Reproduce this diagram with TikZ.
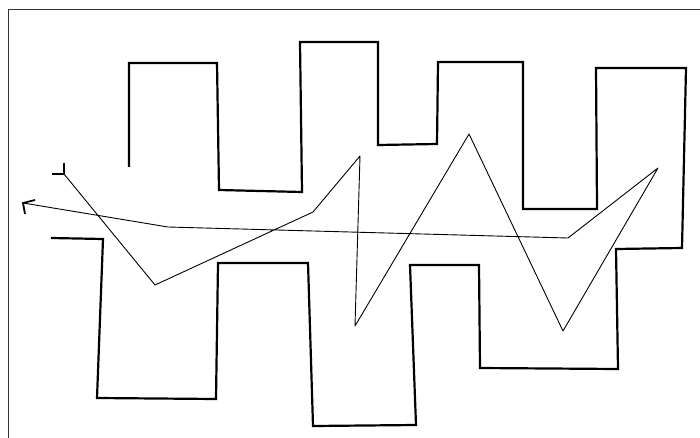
\documentclass[tikz,border=0pt]{standalone}
\begin{document}
\begin{tikzpicture}[x=1pt,y=-1pt,
  frame/.style={line width=0.8pt,black!80},
  wall/.style={line width=2.2pt,line join=miter,black},
  route/.style={line width=0.9pt,line join=round,black},
  tick/.style={line width=1.8pt,black}]
\useasboundingbox (0,0) rectangle (700,438);
\fill[white] (0,0) rectangle (700,438);
% frame
\draw[frame] (8,438) -- (8,9) -- (700,9);
% wall
\draw[wall] (129,167) -- (129,63) -- (217,63) -- (219,190) -- (302,192) -- (300,42)
  -- (378,42) -- (378,145) -- (437,144) -- (438,62) -- (523,62) -- (523,209)
  -- (597,209) -- (596,68) -- (686,68) -- (682,248) -- (616,249) -- (618,369)
  -- (480,368) -- (479,265) -- (410,265) -- (416,425) -- (313,426) -- (308,263)
  -- (218,263) -- (216,399) -- (97,398) -- (103,239) -- (51,238);
% route
\coordinate (s) at (64,174);
\coordinate (p1) at (155,285);
\coordinate (p2) at (313,212);
\coordinate (p3) at (360,156);
\coordinate (p4) at (355,326);
\coordinate (p5) at (469,134);
\coordinate (p6) at (563,331);
\coordinate (p7) at (658,168);
\coordinate (p8) at (568,238);
\coordinate (p9) at (168,227);
\coordinate (e) at (23,203);
\draw[route] (s) -- (p1) -- (p2) -- (p3) -- (p4) -- (p5) -- (p6) -- (p7) -- (p8) -- (p9) -- (e);
% start marker
\draw[tick] ([yshift=11pt]s) -- (s) -- ([xshift=-12pt]s);
% arrow head
\draw[tick] ([xshift=12pt,yshift=3pt]e) -- (e) -- ([xshift=2pt,yshift=-11pt]e);
\end{tikzpicture}
\end{document}
